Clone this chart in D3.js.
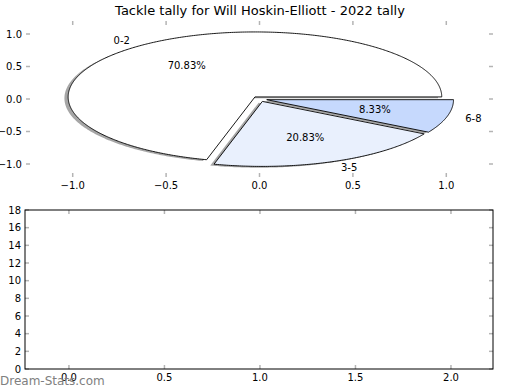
<!DOCTYPE html>
<html>
<head>
<meta charset="utf-8">
<script src="https://cdn.jsdelivr.net/npm/d3@7"></script>
<style>
  body { margin: 0; background: #fff; }
  svg { display: block; font-family: "DejaVu Sans", sans-serif; }
</style>
</head>
<body>
<svg id="chart" width="520" height="390"></svg>
<script>
const title = 'Tackle tally for Will Hoskin-Elliott - 2022 tally';
const categories = ['0-2', '3-5', '6-8'];
const tallies = [17, 5, 2];
const sliceColors = ['#ffffff', '#e9f0fd', '#c6d9fd'];
const explode = [0.04, 0.04, 0.04];

const pieXTicks = [-1.0, -0.5, 0.0, 0.5, 1.0];
const pieYTicks = [-1.0, -0.5, 0.0, 0.5, 1.0];
const barXTicks = [0.0, 0.5, 1.0, 1.5, 2.0];
const barYTicks = [0, 2, 4, 6, 8, 10, 12, 14, 16, 18];

const svg = d3.select('#chart');
const fmt = d3.format('.1f');
const minus = s => s.replace('-', '\u2212');
const tickGrey = '#b4b4b4';

svg.append('text')
    .attr('x', 260)
    .attr('y', 15)
    .attr('text-anchor', 'middle')
    .style('font-size', '13px')
    .text(title);

// ---- top panel: pie ----
const pieBox = { left: 26, right: 493, top: 21, bottom: 177 };
const x = d3.scaleLinear().domain([-1.25, 1.25]).range([pieBox.left, pieBox.right]);
const y = d3.scaleLinear().domain([-1.2, 1.2]).range([pieBox.bottom, pieBox.top]);

const gTop = svg.append('g');

const pie = d3.pie().sort(null).value(d => d)(tallies);
const total = d3.sum(tallies);
const line = d3.line().x(d => x(d[0])).y(d => y(d[1]));

function wedgePoints(d, i, dx, dy) {
    const a0 = d.startAngle, a1 = d.endAngle;
    const mid = (a0 + a1) / 2;
    const ox = explode[i] * Math.cos(mid) + dx;
    const oy = explode[i] * Math.sin(mid) + dy;
    const pts = [[ox, oy]];
    const n = Math.max(8, Math.ceil((a1 - a0) / 0.01));
    for (let k = 0; k <= n; k++) {
        const a = a0 + (a1 - a0) * k / n;
        pts.push([ox + Math.cos(a), oy + Math.sin(a)]);
    }
    pts.push([ox, oy]);
    return pts;
}

// shadows under everything
gTop.selectAll('path.shadow').data(pie)
    .enter().append('path')
    .attr('class', 'shadow')
    .attr('d', (d, i) => line(wedgePoints(d, i, -0.02, -0.02)))
    .attr('fill', '#4d4d4d')
    .attr('fill-opacity', 0.5);

gTop.selectAll('path.wedge').data(pie)
    .enter().append('path')
    .attr('class', 'wedge')
    .attr('d', (d, i) => line(wedgePoints(d, i, 0, 0)) + 'Z')
    .attr('fill', (d, i) => sliceColors[i])
    .attr('stroke', '#000')
    .attr('stroke-width', 0.9)
    .attr('stroke-linejoin', 'miter');

// labels
gTop.selectAll('text.lbl').data(pie)
    .enter().append('text')
    .attr('class', 'lbl')
    .each(function(d, i) {
        const mid = (d.startAngle + d.endAngle) / 2;
        const ox = explode[i] * Math.cos(mid);
        const oy = explode[i] * Math.sin(mid);
        const lx = ox + 1.1 * Math.cos(mid);
        const ly = oy + 1.1 * Math.sin(mid);
        d3.select(this)
            .attr('x', x(lx))
            .attr('y', y(ly))
            .attr('dy', '0.35em')
            .attr('text-anchor', lx < 0 ? 'end' : 'start')
            .style('font-size', '10px')
            .text(categories[i]);
    });

gTop.selectAll('text.pct').data(pie)
    .enter().append('text')
    .attr('class', 'pct')
    .each(function(d, i) {
        const mid = (d.startAngle + d.endAngle) / 2;
        const ox = explode[i] * Math.cos(mid);
        const oy = explode[i] * Math.sin(mid);
        d3.select(this)
            .attr('x', x(ox + 0.6 * Math.cos(mid)))
            .attr('y', y(oy + 0.6 * Math.sin(mid)))
            .attr('dy', '0.35em')
            .attr('text-anchor', 'middle')
            .style('font-size', '10px')
            .text((tallies[i] / total * 100).toFixed(2) + '%');
    });

// ticks only, no spines
function ticksOnly(g, xs, ys, xt, yt, box) {
    g.selectAll('line.xt').data(xt).enter().append('line')
        .attr('x1', d => xs(d)).attr('x2', d => xs(d))
        .attr('y1', box.bottom).attr('y2', box.bottom - 4)
        .attr('stroke', tickGrey).attr('stroke-width', 1.5);
    g.selectAll('line.xt2').data(xt).enter().append('line')
        .attr('x1', d => xs(d)).attr('x2', d => xs(d))
        .attr('y1', box.top).attr('y2', box.top + 4)
        .attr('stroke', tickGrey).attr('stroke-width', 1.5);
    g.selectAll('line.yt').data(yt).enter().append('line')
        .attr('x1', box.left).attr('x2', box.left + 4)
        .attr('y1', d => ys(d)).attr('y2', d => ys(d))
        .attr('stroke', tickGrey).attr('stroke-width', 1.5);
    g.selectAll('line.yt2').data(yt).enter().append('line')
        .attr('x1', box.right).attr('x2', box.right - 4)
        .attr('y1', d => ys(d)).attr('y2', d => ys(d))
        .attr('stroke', tickGrey).attr('stroke-width', 1.5);
}

function tickLabels(g, xs, ys, xt, yt, box, xf, yf) {
    g.selectAll('text.xl').data(xt).enter().append('text')
        .attr('x', d => xs(d))
        .attr('y', box.bottom + 12)
        .attr('text-anchor', 'middle')
        .style('font-size', '10px')
        .text(xf);
    g.selectAll('text.yl').data(yt).enter().append('text')
        .attr('x', box.left - 4)
        .attr('y', d => ys(d))
        .attr('dy', '0.35em')
        .attr('text-anchor', 'end')
        .style('font-size', '10px')
        .text(yf);
}

ticksOnly(gTop, x, y, pieXTicks, pieYTicks, pieBox);
tickLabels(gTop, x, y, pieXTicks, pieYTicks, pieBox,
    d => minus(fmt(d)), d => minus(fmt(d)));

// ---- bottom panel: empty axes ----
const bot = { left: 25, right: 493, top: 210, bottom: 369 };
const x2 = d3.scaleLinear().domain([-0.23, 2.22]).range([bot.left, bot.right]);
const y2 = d3.scaleLinear().domain([0, 18]).range([bot.bottom, bot.top]);
const gBot = svg.append('g');

ticksOnly(gBot, x2, y2, barXTicks, barYTicks, bot);
gBot.append('rect')
    .attr('x', bot.left).attr('y', bot.top)
    .attr('width', bot.right - bot.left)
    .attr('height', bot.bottom - bot.top)
    .attr('fill', 'none')
    .attr('stroke', '#000')
    .attr('stroke-width', 1);
tickLabels(gBot, x2, y2, barXTicks, barYTicks, bot,
    d => fmt(d), d => d);

// watermark
svg.append('text')
    .attr('x', 0)
    .attr('y', 385)
    .attr('fill', '#808080')
    .style('font-size', '12px')
    .text('Dream-Stats.com');
</script>
</body>
</html>
